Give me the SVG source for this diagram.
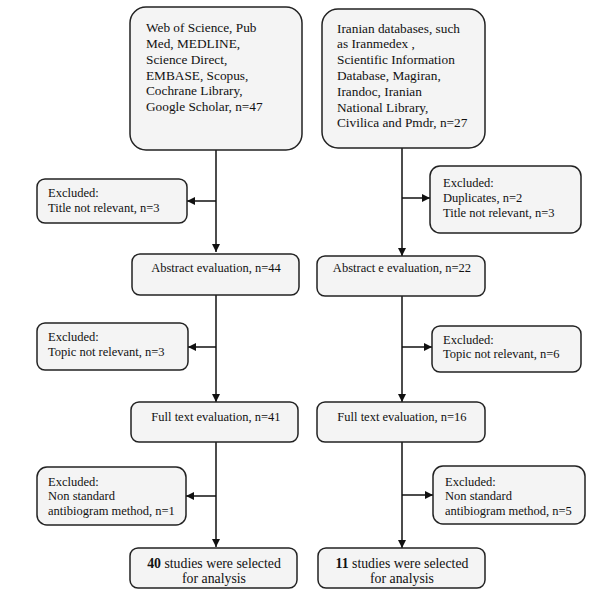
<svg xmlns="http://www.w3.org/2000/svg" width="600" height="598" viewBox="0 0 600 598">
<defs>
<marker id="ah" markerWidth="8" markerHeight="8" refX="8" refY="4" orient="auto" markerUnits="userSpaceOnUse">
<path d="M0,0 L8,4 L0,8 Z" fill="#111"/>
</marker>
<style>
.box{fill:#f4f4f4;stroke:#222;stroke-width:1.5}
.t{font-family:"Liberation Serif","Times New Roman",serif;font-size:12.5px;fill:#111}
.b{font-size:13.3px}
.f{font-size:13.8px}
.c{text-anchor:middle}
.ln{stroke:#111;stroke-width:1.5;fill:none}
</style>
</defs>
<rect width="600" height="598" fill="#fff"/>
<g id="connectors">
<path class="ln" d="M216,150 V252" marker-end="url(#ah)"/>
<path class="ln" d="M216,201 H187" marker-end="url(#ah)"/>
<path class="ln" d="M216,295 V402" marker-end="url(#ah)"/>
<path class="ln" d="M216,347 H188" marker-end="url(#ah)"/>
<path class="ln" d="M216,442 V547" marker-end="url(#ah)"/>
<path class="ln" d="M216,496 H186" marker-end="url(#ah)"/>
<path class="ln" d="M402,148 V256" marker-end="url(#ah)"/>
<path class="ln" d="M402,198 H430" marker-end="url(#ah)"/>
<path class="ln" d="M402,296 V402" marker-end="url(#ah)"/>
<path class="ln" d="M402,347 H432" marker-end="url(#ah)"/>
<path class="ln" d="M402,442 V548" marker-end="url(#ah)"/>
<path class="ln" d="M402,495 H433" marker-end="url(#ah)"/>
</g>
<g id="src-left">
<rect class="box" x="130" y="7" width="172" height="143" rx="16"/>
<text class="t b" x="146" y="32">Web of Science, Pub</text>
<text class="t b" x="146" y="48">Med, MEDLINE,</text>
<text class="t b" x="146" y="64">Science Direct,</text>
<text class="t b" x="146" y="80">EMBASE, Scopus,</text>
<text class="t b" x="146" y="95">Cochrane Library,</text>
<text class="t b" x="146" y="111">Google Scholar, n=47</text>
</g>
<g id="src-right">
<rect class="box" x="322" y="9" width="163" height="139" rx="16"/>
<text class="t b" x="337" y="33">Iranian databases, such</text>
<text class="t b" x="337" y="48">as Iranmedex ,</text>
<text class="t b" x="337" y="64">Scientific Information</text>
<text class="t b" x="337" y="80">Database, Magiran,</text>
<text class="t b" x="337" y="96">Irandoc, Iranian</text>
<text class="t b" x="337" y="112">National Library,</text>
<text class="t b" x="337" y="127">Civilica and Pmdr, n=27</text>
</g>
<g id="excl-l1">
<rect class="box" x="37" y="179" width="150" height="44" rx="8"/>
<text class="t" x="48" y="197">Excluded:</text>
<text class="t" x="48" y="212">Title not relevant, n=3</text>
</g>
<g id="excl-r1">
<rect class="box" x="430" y="166" width="151" height="67" rx="10"/>
<text class="t" x="443" y="187">Excluded:</text>
<text class="t" x="443" y="202">Duplicates, n=2</text>
<text class="t" x="443" y="217">Title not relevant, n=3</text>
</g>
<g id="abs-l">
<rect class="box" x="132" y="254" width="167" height="41" rx="8"/>
<text class="t c" x="216" y="272">Abstract evaluation, n=44</text>
</g>
<g id="abs-r">
<rect class="box" x="317" y="256" width="168" height="40" rx="8"/>
<text class="t c" x="402" y="272">Abstract e evaluation, n=22</text>
</g>
<g id="excl-l2">
<rect class="box" x="37" y="323" width="151" height="47" rx="8"/>
<text class="t" x="48" y="341">Excluded:</text>
<text class="t" x="48" y="356">Topic not relevant, n=3</text>
</g>
<g id="excl-r2">
<rect class="box" x="432" y="326" width="149" height="46" rx="8"/>
<text class="t" x="443" y="344">Excluded:</text>
<text class="t" x="443" y="358">Topic not relevant, n=6</text>
</g>
<g id="full-l">
<rect class="box" x="131" y="402" width="167" height="40" rx="8"/>
<text class="t c" x="216" y="421">Full text evaluation, n=41</text>
</g>
<g id="full-r">
<rect class="box" x="317" y="402" width="168" height="40" rx="8"/>
<text class="t c" x="402" y="421">Full text evaluation, n=16</text>
</g>
<g id="excl-l3">
<rect class="box" x="37" y="467" width="149" height="58" rx="10"/>
<text class="t" x="48" y="486">Excluded:</text>
<text class="t" x="48" y="500">Non standard</text>
<text class="t" x="48" y="515">antibiogram method, n=1</text>
</g>
<g id="excl-r3">
<rect class="box" x="433" y="466" width="152" height="58" rx="10"/>
<text class="t" x="445" y="486">Excluded:</text>
<text class="t" x="445" y="500">Non standard</text>
<text class="t" x="445" y="515">antibiogram method, n=5</text>
</g>
<g id="final-l">
<rect class="box" x="130" y="548" width="167" height="40" rx="8"/>
<text class="t f c" x="214" y="568"><tspan font-weight="bold">40</tspan> studies were selected</text>
<text class="t f c" x="214" y="583">for analysis</text>
</g>
<g id="final-r">
<rect class="box" x="318" y="548" width="167" height="40" rx="8"/>
<text class="t f c" x="402" y="568"><tspan font-weight="bold">11</tspan> studies were selected</text>
<text class="t f c" x="402" y="583">for analysis</text>
</g>
</svg>
